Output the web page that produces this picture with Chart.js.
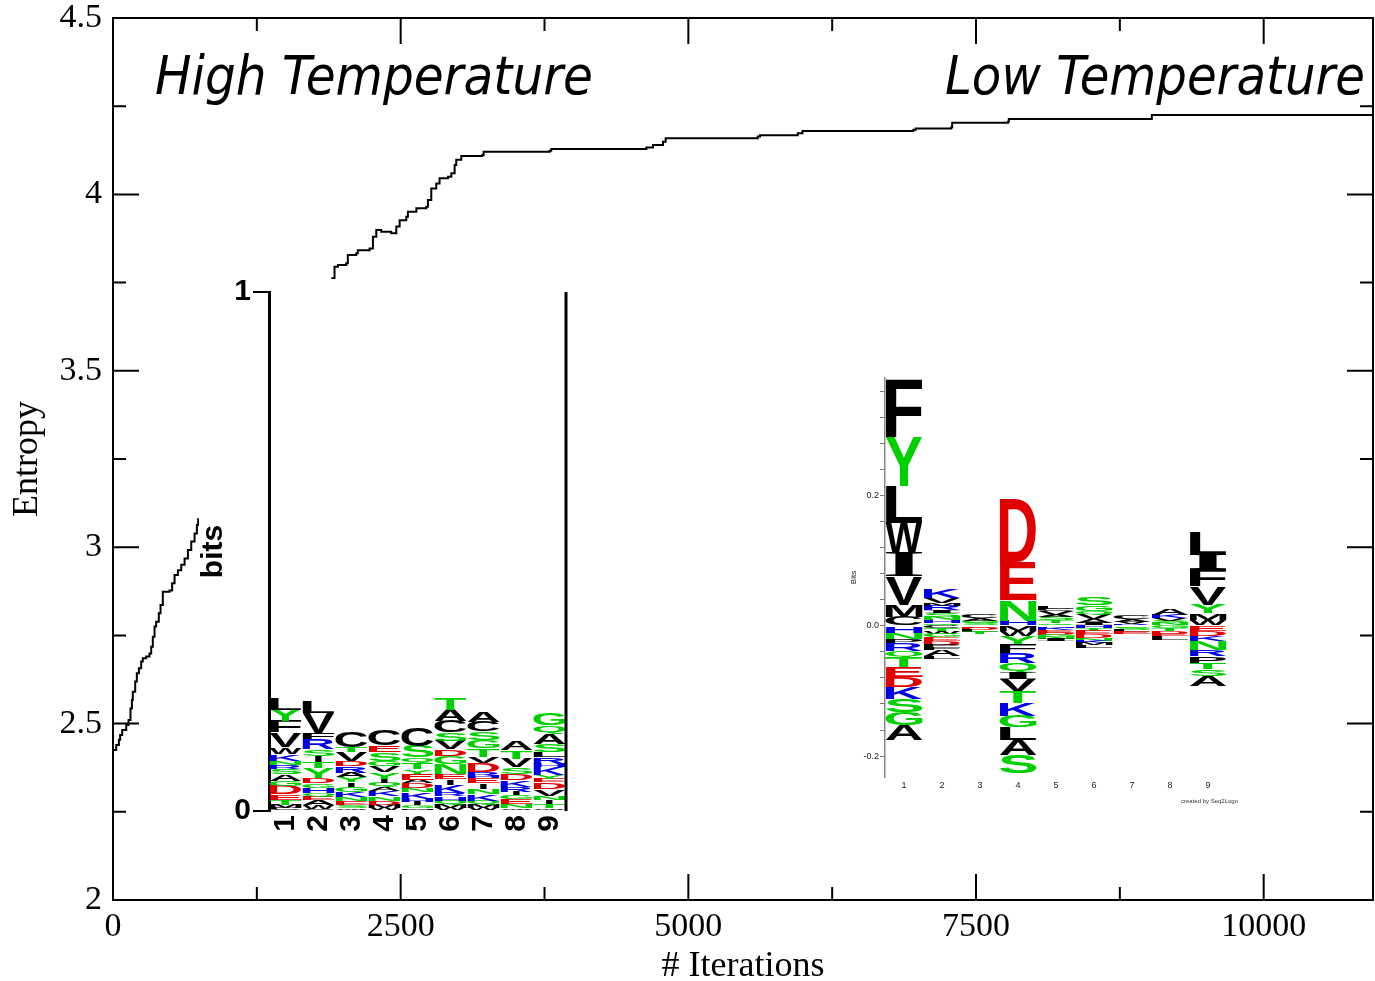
<!DOCTYPE html>
<html>
<head>
<meta charset="utf-8">
<title>Entropy vs iterations</title>
<script src="https://cdn.jsdelivr.net/npm/chart.js@4"></script>
<style>
  html, body { margin: 0; background: #fff; }
  #wrap { position: relative; width: 1375px; height: 981px; }
  canvas { display: block; }
  .inset { position: absolute; background: #fff; }
</style>
</head>
<body>
<div id="wrap">
  <canvas id="entropy-chart" width="1375" height="981"></canvas>
  <div class="inset" style="left:199px;top:279px;width:376px;height:568px">
    <canvas id="hot-logo" width="376" height="568"></canvas>
  </div>
  <div class="inset" style="left:845px;top:370px;width:400px;height:440px">
    <canvas id="cold-logo" width="400" height="440"></canvas>
  </div>
</div>
<script>
// entropy trace, split where the high temperature logo sits on top of it
const earlyIter = [4, 28, 51, 62, 80, 100, 115, 135, 152, 164, 172, 193, 207, 225, 245, 259, 288, 317, 332, 346,
  361, 375, 398, 413, 433, 491, 514, 535, 564, 593, 622, 651, 680, 709, 729, 740];
const earlyEntropy = [2.425, 2.439, 2.454, 2.468, 2.482, 2.482, 2.496, 2.510, 2.543, 2.567, 2.590, 2.619, 2.643,
  2.657, 2.676, 2.685, 2.690, 2.699, 2.718, 2.746, 2.775, 2.789, 2.813, 2.836, 2.874, 2.877, 2.898, 2.921, 2.935,
  2.950, 2.968, 2.992, 3.016, 3.039, 3.063, 3.082];

const lateIter = [1897, 1925, 1955, 2027, 2041, 2114, 2128, 2230, 2259, 2288, 2331, 2418, 2462, 2491, 2549, 2563,
  2636, 2722, 2737, 2766, 2809, 2838, 2911, 2940, 2969, 2983, 3027, 3209, 3221, 3795, 3809, 4635, 4693, 4780, 4803,
  5603, 5623, 5951, 5992, 6956, 6976, 7285, 7293, 7777, 7785, 9028, 10950];
const lateEntropy = [3.762, 3.795, 3.800, 3.805, 3.828, 3.833, 3.842, 3.847, 3.880, 3.899, 3.894, 3.890, 3.909,
  3.927, 3.937, 3.951, 3.961, 3.965, 3.984, 4.017, 4.031, 4.046, 4.050, 4.060, 4.083, 4.098, 4.109, 4.112, 4.121,
  4.124, 4.129, 4.133, 4.140, 4.149, 4.159, 4.164, 4.168, 4.173, 4.180, 4.183, 4.187, 4.190, 4.203, 4.206, 4.214,
  4.225, 4.225];

const iterTicks = [0, 2500, 5000, 7500, 10000];
const entropyTicks = [2, 2.5, 3, 3.5, 4, 4.5];

const positions = ["1", "2", "3", "4", "5", "6", "7", "8", "9"];

// high temperature logo: letters from the baseline up, heights in bits
const hotLetters = [
  "CMTEDGASRNKWVFYL",
  "CWAEQHGDYTISRFVL",
  "WSENKGIYARDVTC",
  "WMDNKAQIYVGSEC",
  "MGIHKNDAEYTQSC",
  "WMQHRKIENGDVSCAT",
  "WMQKNIEHRDVTGSCA",
  "WNEGIRKDSVTA",
  "WTINVDEYKHRLSAQG",
];
const hotBits = [
  [0.006, 0.006, 0.010, 0.010, 0.016, 0.010, 0.013, 0.010, 0.008, 0.008, 0.013, 0.013, 0.028, 0.022, 0.022, 0.022],
  [0.004, 0.008, 0.010, 0.006, 0.007, 0.010, 0.008, 0.010, 0.019, 0.012, 0.012, 0.013, 0.019, 0.013, 0.038, 0.022],
  [0.005, 0.006, 0.008, 0.008, 0.010, 0.010, 0.008, 0.010, 0.009, 0.013, 0.010, 0.016, 0.010, 0.030],
  [0.006, 0.006, 0.008, 0.008, 0.010, 0.008, 0.008, 0.008, 0.013, 0.012, 0.010, 0.016, 0.013, 0.029],
  [0.005, 0.006, 0.006, 0.006, 0.013, 0.008, 0.010, 0.006, 0.012, 0.008, 0.013, 0.010, 0.022, 0.035],
  [0.006, 0.006, 0.008, 0.008, 0.007, 0.016, 0.010, 0.010, 0.019, 0.016, 0.013, 0.016, 0.016, 0.022, 0.022, 0.022],
  [0.006, 0.006, 0.008, 0.013, 0.010, 0.010, 0.010, 0.005, 0.008, 0.016, 0.013, 0.016, 0.016, 0.016, 0.019, 0.019],
  [0.005, 0.008, 0.010, 0.008, 0.006, 0.010, 0.013, 0.012, 0.013, 0.016, 0.016, 0.017],
  [0.005, 0.008, 0.008, 0.008, 0.013, 0.013, 0.006, 0.008, 0.016, 0.006, 0.013, 0.010, 0.016, 0.019, 0.016, 0.022],
];

// low temperature logo: letters from zero outwards, above and below the line
const coldUpLetters = ["CMVIWLYF", "QHNSIRMVK", "SGAC", "HNED", "QTSAVCL", "IAVQGS", "RVAC", "NSVKA", "WMYVFIL"];
const coldUpBits = [
  [0.014, 0.018, 0.043, 0.036, 0.046, 0.057, 0.074, 0.089],
  [0.004, 0.005, 0.005, 0.005, 0.005, 0.007, 0.004, 0.008, 0.013],
  [0.004, 0.004, 0.004, 0.005],
  [0.008, 0.031, 0.059, 0.097],
  [0.004, 0.004, 0.005, 0.004, 0.005, 0.004, 0.004],
  [0.004, 0.006, 0.007, 0.006, 0.008, 0.011],
  [0.003, 0.003, 0.004, 0.005],
  [0.004, 0.004, 0.004, 0.005, 0.010],
  [0.009, 0.010, 0.013, 0.028, 0.026, 0.023, 0.035],
];
const coldDownLetters = ["HNPRQTEDKSGA", "CTWGEDPFAL", "EDLT", "MWYFRQIVTKGLAS", "HKEDGNI", "HTEDNKML", "GSLE",
  "GTDEL", "EDKNRPTSA"];
const coldDownBits = [
  [0.011, 0.010, 0.006, 0.012, 0.010, 0.015, 0.015, 0.015, 0.018, 0.020, 0.020, 0.023],
  [0.004, 0.005, 0.003, 0.005, 0.006, 0.006, 0.004, 0.004, 0.010, 0.004],
  [0.003, 0.003, 0.003, 0.003],
  [0.008, 0.008, 0.013, 0.013, 0.015, 0.015, 0.010, 0.018, 0.018, 0.020, 0.018, 0.020, 0.023, 0.028],
  [0.003, 0.004, 0.004, 0.003, 0.004, 0.003, 0.003],
  [0.004, 0.004, 0.005, 0.006, 0.004, 0.004, 0.003, 0.004],
  [0.003, 0.003, 0.003, 0.003],
  [0.004, 0.004, 0.004, 0.004, 0.006],
  [0.008, 0.008, 0.008, 0.013, 0.010, 0.010, 0.010, 0.010, 0.015],
];

const SERIF = "Liberation Serif";
const SANS = "Liberation Sans";

function residueColor(ch) {
  if ("GSTYQN".includes(ch)) return "#00d000";
  if ("KRH".includes(ch)) return "#0000e6";
  if ("DE".includes(ch)) return "#e00000";
  return "#000";
}

function stackSets(letterCols, valueCols, sign) {
  const depth = Math.max(...letterCols.map((s) => s.length));
  const sets = [];
  for (let r = 0; r < depth; r++) {
    sets.push({
      data: valueCols.map((v) => (v[r] ?? 0) * sign),
      letters: letterCols.map((s) => s[r] || ""),
      backgroundColor: "rgba(0,0,0,0)",
      borderWidth: 0,
      barPercentage: 0.97,
      categoryPercentage: 1,
      stack: "logo",
    });
  }
  return sets;
}

// glyph stretched into a box; "narrowI" keeps I as a thin bar,
// otherwise I is taken from the serif face so it keeps its crossbars
function drawGlyph(ctx, ch, left, top, w, h, narrowI) {
  ctx.save();
  ctx.font = ch === "I" && !narrowI ? `bold 100px "${SERIF}"` : `bold 100px "${SANS}"`;
  ctx.textBaseline = "alphabetic";
  ctx.textAlign = "left";
  if (ch === "I" && narrowI) {
    left += w * 0.39;
    w *= 0.22;
  }
  const m = ctx.measureText(ch);
  const gw = m.actualBoundingBoxLeft + m.actualBoundingBoxRight;
  const gh = m.actualBoundingBoxAscent + m.actualBoundingBoxDescent;
  ctx.translate(left, top);
  ctx.scale(w / gw, h / gh);
  ctx.fillStyle = residueColor(ch);
  ctx.fillText(ch, m.actualBoundingBoxLeft, m.actualBoundingBoxAscent);
  ctx.restore();
}

// paints every stacked bar as its residue letter stretched to the bar box
const letterBars = {
  id: "letterBars",
  afterDatasetsDraw(chart, args, opts) {
    chart.data.datasets.forEach((ds, i) => {
      chart.getDatasetMeta(i).data.forEach((bar, j) => {
        const ch = ds.letters[j];
        if (!ch || !ds.data[j]) return;
        const { x, y, base, width } = bar.getProps(["x", "y", "base", "width"], true);
        const h = Math.abs(base - y);
        if (h < 0.3) return;
        drawGlyph(chart.ctx, ch, x - width / 2, Math.min(y, base), width, h, opts.narrowI);
      });
    });
  },
};

// closed frame with inward major and minor ticks on all four sides
const frameTicks = {
  id: "frameTicks",
  afterDraw(chart) {
    const { ctx, chartArea: a, scales } = chart;
    ctx.save();
    ctx.strokeStyle = "#000";
    ctx.lineWidth = 2;
    ctx.strokeRect(a.left, a.top, a.right - a.left, a.bottom - a.top);
    const marks = (scale) => {
      const vals = scale.ticks.map((t) => t.value);
      const step = vals[1] - vals[0];
      const out = vals.map((v) => ({ v, len: 26 }));
      vals.forEach((v) => {
        if (v + step / 2 <= scale.max) out.push({ v: v + step / 2, len: 13 });
      });
      return out;
    };
    ctx.beginPath();
    marks(scales.x).forEach(({ v, len }) => {
      const px = scales.x.getPixelForValue(v);
      ctx.moveTo(px, a.bottom); ctx.lineTo(px, a.bottom - len);
      ctx.moveTo(px, a.top); ctx.lineTo(px, a.top + len);
    });
    marks(scales.y).forEach(({ v, len }) => {
      const py = scales.y.getPixelForValue(v);
      ctx.moveTo(a.left, py); ctx.lineTo(a.left + len, py);
      ctx.moveTo(a.right, py); ctx.lineTo(a.right - len, py);
    });
    ctx.stroke();
    ctx.restore();
  },
};

const headings = {
  id: "headings",
  afterDraw(chart) {
    const ctx = chart.ctx;
    ctx.save();
    ctx.fillStyle = "#000";
    ctx.font = 'italic 54px "DejaVu Sans"';
    ctx.textBaseline = "alphabetic";
    ctx.textAlign = "left";
    ctx.fillText("High Temperature", 155, 94, 438);
    ctx.textAlign = "right";
    ctx.fillText("Low Temperature", 1365, 94, 420);
    ctx.restore();
  },
};

const sideLine = {
  id: "sideLine",
  afterDraw(chart) {
    const { ctx, chartArea: a } = chart;
    ctx.save();
    ctx.strokeStyle = "#000";
    ctx.lineWidth = 3;
    ctx.beginPath();
    ctx.moveTo(a.right, a.top);
    ctx.lineTo(a.right, a.bottom);
    ctx.stroke();
    ctx.restore();
  },
};

const credit = {
  id: "credit",
  afterDraw(chart) {
    const ctx = chart.ctx;
    ctx.save();
    ctx.fillStyle = "#333";
    ctx.font = `6px "${SANS}"`;
    ctx.textAlign = "right";
    ctx.fillText("created by Seq2Logo", 393, 433);
    ctx.restore();
  },
};

const serif = (size) => ({ family: SERIF, size, lineHeight: 1 });
const boldSans = (size) => ({ family: SANS, size, weight: "bold", lineHeight: 1 });
const fixedTicks = (values) => (scale) => { scale.ticks = values.map((value) => ({ value })); };

// keep label overhang from shrinking the plotting area
const fitWidth = (w) => (s) => { s.width = w; s.paddingTop = 0; s.paddingBottom = 0; };
const fitHeight = (h) => (s) => { s.height = h; s.paddingLeft = 0; s.paddingRight = 0; };

function toPoints(xs, ys) {
  return xs.map((x, i) => ({ x, y: ys[i] }));
}

const traceStyle = {
  showLine: true,
  stepped: true,
  borderColor: "#000",
  borderWidth: 2,
  pointRadius: 0,
  fill: false,
};

new Chart(document.getElementById("entropy-chart"), {
  type: "scatter",
  data: {
    datasets: [
      { ...traceStyle, data: toPoints(earlyIter, earlyEntropy) },
      { ...traceStyle, data: toPoints(lateIter, lateEntropy) },
    ],
  },
  options: {
    responsive: false,
    animation: false,
    devicePixelRatio: 1,
    layout: { padding: { top: 18, right: 2, left: 0, bottom: 0 } },
    plugins: { legend: { display: false }, tooltip: { enabled: false } },
    scales: {
      x: {
        type: "linear",
        min: 0,
        max: 10950,
        afterBuildTicks: fixedTicks(iterTicks),
        afterFit: fitHeight(81),
        grid: { display: false, drawTicks: false },
        border: { display: false },
        ticks: { maxRotation: 0, autoSkip: false, padding: 10, color: "#000", font: serif(34), callback: (v) => String(v) },
        title: { display: true, text: "# Iterations", color: "#000", font: serif(36), padding: { top: 0, bottom: -4 } },
      },
      y: {
        min: 2,
        max: 4.5,
        afterBuildTicks: fixedTicks(entropyTicks),
        afterFit: fitWidth(113),
        grid: { display: false, drawTicks: false },
        border: { display: false },
        ticks: { autoSkip: false, padding: 11, color: "#000", font: serif(34), callback: (v) => String(v) },
        title: { display: true, text: "Entropy", color: "#000", font: serif(36), padding: { top: 10, bottom: 0 } },
      },
    },
  },
  plugins: [frameTicks, headings],
});

new Chart(document.getElementById("hot-logo"), {
  type: "bar",
  data: { labels: positions, datasets: stackSets(hotLetters, hotBits, 1) },
  options: {
    responsive: false,
    animation: false,
    devicePixelRatio: 1,
    layout: { padding: { top: 13, right: 9, left: 0, bottom: 0 } },
    plugins: { legend: { display: false }, tooltip: { enabled: false }, letterBars: { narrowI: true } },
    scales: {
      x: {
        stacked: true,
        afterFit: fitHeight(36),
        grid: { display: false, drawTicks: false },
        border: { display: false },
        ticks: { autoSkip: false, minRotation: 90, maxRotation: 90, padding: 4, color: "#000", font: boldSans(30) },
      },
      y: {
        stacked: true,
        min: 0,
        max: 1,
        afterFit: fitWidth(70),
        grid: { drawOnChartArea: false, tickLength: 16, color: "#000", lineWidth: 2 },
        border: { display: true, color: "#000", width: 3 },
        ticks: { stepSize: 1, padding: 2, color: "#000", font: boldSans(30) },
        title: { display: true, text: "bits", color: "#000", font: boldSans(30), padding: { top: 0, bottom: 0 } },
      },
    },
  },
  plugins: [letterBars, sideLine],
});

const isMultiple = (v, step) => Math.abs(v / step - Math.round(v / step)) < 1e-6;

new Chart(document.getElementById("cold-logo"), {
  type: "bar",
  data: {
    labels: positions,
    datasets: [...stackSets(coldUpLetters, coldUpBits, 1), ...stackSets(coldDownLetters, coldDownBits, -1)],
  },
  options: {
    responsive: false,
    animation: false,
    devicePixelRatio: 1,
    layout: { padding: { top: 8, right: 18, left: 0, bottom: 0 } },
    plugins: { legend: { display: false }, tooltip: { enabled: false }, letterBars: { narrowI: false } },
    scales: {
      x: {
        stacked: true,
        afterFit: fitHeight(33),
        grid: { display: false, drawTicks: false },
        border: { display: false },
        ticks: { autoSkip: false, maxRotation: 0, padding: 3, color: "#222", font: { family: SANS, size: 9 } },
      },
      y: {
        stacked: true,
        min: -0.232,
        max: 0.38,
        afterFit: fitWidth(40),
        grid: { drawOnChartArea: false, tickLength: 5, color: "#777", lineWidth: 1 },
        border: { display: true, color: "#888", width: 1.5 },
        ticks: {
          stepSize: 0.04,
          includeBounds: false,
          autoSkip: false,
          padding: 1,
          color: "#222",
          font: { family: SANS, size: 9 },
          callback: (v) => (isMultiple(v, 0.2) ? (Math.abs(v) < 1e-9 ? "0.0" : v.toFixed(1)) : ""),
        },
        title: { display: true, text: "Bits", color: "#222", font: { family: SANS, size: 8 }, padding: { top: 4, bottom: 0 } },
      },
    },
  },
  plugins: [letterBars, credit],
});
</script>
</body>
</html>
